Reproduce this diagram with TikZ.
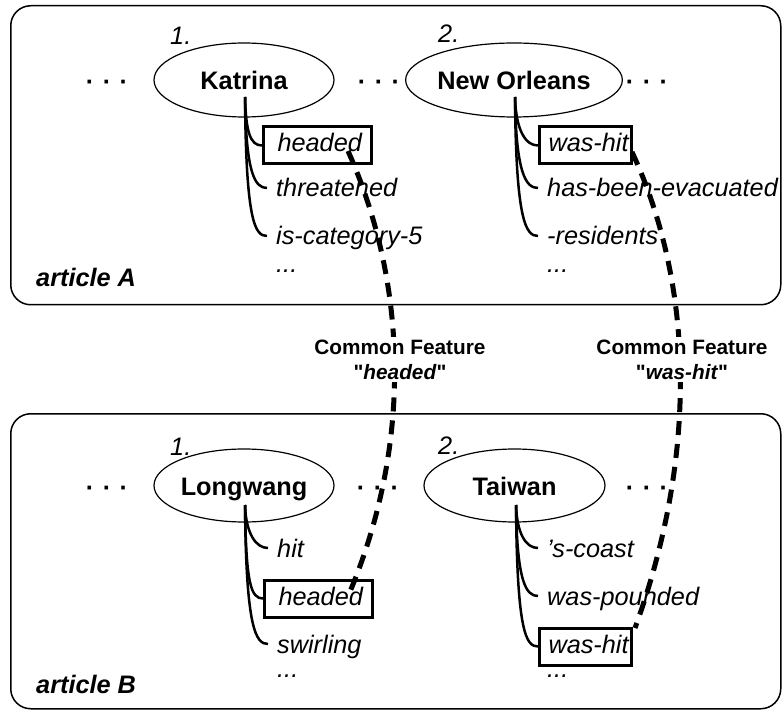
\documentclass[tikz,border=0pt]{standalone}
\usepackage{fontspec}
\setmainfont{Liberation Sans}[Ligatures=TeXOff]
\usetikzlibrary{shapes.geometric,calc}

\begin{document}
\begin{tikzpicture}[x=1pt,y=-1pt,
  panel/.style={draw, line width=1.5pt, rounded corners=20pt, minimum width=770pt,
                inner sep=0pt, anchor=north west},
  term/.style={draw, ellipse, line width=1.2pt, minimum width=180pt, minimum height=74pt,
               inner sep=0pt, text height=20pt, text depth=0pt,
               font=\fontsize{25.3}{30}\selectfont\bfseries},
  rank/.style={anchor=base west, inner sep=0pt, font=\fontsize{25.3}{30}\selectfont\itshape},
  more/.style={anchor=base, inner sep=0pt, font=\fontsize{25.3}{30}\selectfont\bfseries},
  feat/.style={anchor=base west, inner xsep=9pt, inner ysep=0pt, text height=18pt,
               text depth=0pt, font=\fontsize{25.3}{30}\selectfont\itshape},
  shared/.style={feat, draw, line width=3pt, inner ysep=9pt, text height=16pt, text depth=3pt},
  stem/.style={line width=2.5pt},
  branch/.style={to path={.. controls ($(\tikztostart |- \tikztotarget)+(1,-14)$)
                 and ($(\tikztotarget)+(-12,0)$) .. (\tikztotarget)}},
  link/.style={line width=5pt, dash pattern=on 14pt off 9pt},
  tag/.style={anchor=base west, inner sep=0pt, font=\fontsize{25.3}{30}\selectfont\bfseries\itshape},
  common/.style={align=center, fill=white, inner sep=3pt,
                 font=\fontsize{20.8}{25}\selectfont\bfseries}
]
\useasboundingbox (0,0) rectangle (782,711);

% the two article panels
\node[panel, minimum height=299pt] (pa) at (10,5) {};
\node[panel, minimum height=295pt] (pb) at (10,413) {};
\node[tag] (ta) at (36,287) {article A};
\node[tag] (tb) at (36,693) {article B};

% dots between the entities
\newcommand{\dotrow}{·\hspace{8.5pt}·\hspace{8.5pt}·}
\node[more] (da1) at (107,90.5) {\dotrow};
\node[more] (da2) at (379,90.5) {\dotrow};
\node[more] (da3) at (647,90.5) {\dotrow};
\node[more] (db1) at (107,496.5) {\dotrow};
\node[more] (db2) at (378,496.5) {\dotrow};
\node[more] (db3) at (647,496.5) {\dotrow};

% entities of article A
\node[term] (ka) at (244,80) {Katrina};
\node[term, minimum width=178pt] (no) at (514,80) {New Orleans};
\node[rank] (ra1) at (170,45) {1.};
\node[rank] (ra2) at (438,43) {2.};

% entities of article B
\node[term, minimum height=73pt] (lw) at (244,485.5) {Longwang};
\node[term, minimum width=181pt, minimum height=73pt] (tw) at (514.5,485.5) {Taiwan};
\node[rank] (rb1) at (170,455) {1.};
\node[rank] (rb2) at (438,454) {2.};

% features of Katrina
\node[shared, inner xsep=10pt] (ka1) at (262,152) {\hspace*{4pt}headed};
\node[feat] (ka2) at (267,197) {threatened};
\node[feat] (ka3) at (267,245) {is-category-5};
\node[feat] (ka4) at (267,273) {...};

% features of New Orleans
\node[shared, inner xsep=3pt] (no1) at (538,152) {\hspace*{6pt}was-hit};
\node[feat] (no2) at (538,197) {has-been-evacuated};
\node[feat] (no3) at (538,245) {-residents};
\node[feat] (no4) at (538,273) {...};

% features of Longwang
\node[feat] (lw1) at (268,557) {hit};
\node[shared, inner xsep=10pt] (lw2) at (263,605) {\hspace*{4pt}headed};
\node[feat] (lw3) at (268,653) {swirling};
\node[feat] (lw4) at (268,677) {...};

% features of Taiwan
\node[feat] (tw1) at (538,557) {’s-coast};
\node[feat] (tw2) at (538,605) {was-pounded};
\node[shared, inner xsep=3pt] (tw3) at (538,653) {\hspace*{6pt}was-hit};
\node[feat] (tw4) at (538,677) {...};

% stems from each entity to its features
\coordinate (kas) at ($(ka.center)+(1,17)$);
\coordinate (nos) at ($(no.center)+(1,17)$);
\coordinate (lws) at ($(lw.center)+(1,19.5)$);
\coordinate (tws) at ($(tw.center)+(1.5,19.5)$);
\foreach \s/\f in {kas/ka1, kas/ka2, kas/ka3, nos/no1, nos/no2, nos/no3,
                   lws/lw1, lws/lw2, lws/lw3, tws/tw1, tws/tw2, tws/tw3}
  \draw[stem] (\s) to[branch] (\f.west);

% links between the shared features
\coordinate (l1a) at (348,151);
\coordinate (l1b) at (349,594);
\coordinate (l2a) at (632,152);
\coordinate (l2b) at (635,628);
\draw[link] (l1a) .. controls (410,290) and (410,450) .. (l1b);
\draw[link] (l2a) .. controls (696,290) and (696,460) .. (l2b);

\node[common] (cf1) at (400,359.5) {Common Feature\\"\textit{headed}"};
\node[common] (cf2) at (682,359.5) {Common Feature\\"\textit{was-hit}"};
\end{tikzpicture}
\end{document}
